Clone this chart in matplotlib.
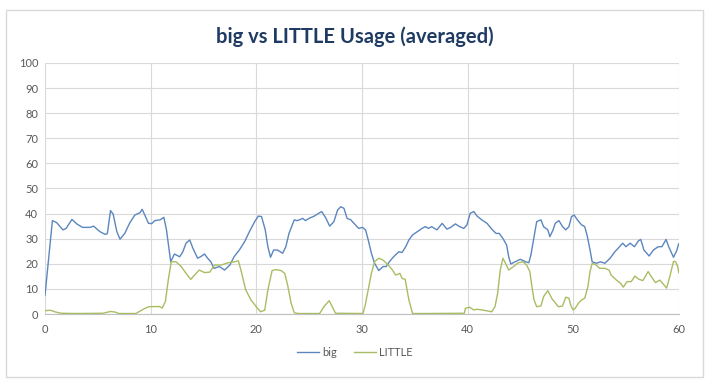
import matplotlib
matplotlib.use("Agg")
import matplotlib.pyplot as plt
from matplotlib.patches import Rectangle

# time (s) and usage (%)
big_t = [0.0, 0.7, 1.1, 1.7, 2.0, 2.55, 3.0, 3.55, 4.25, 4.6, 5.2, 5.7, 5.9, 6.2, 6.45,
         6.8, 7.1, 7.55, 8.0, 8.5, 9.0, 9.2, 9.45, 9.8, 10.1, 10.4, 10.9, 11.25, 11.5,
         11.7, 11.9, 12.25, 12.75, 13.05, 13.35, 13.7, 14.0, 14.45, 14.8, 15.1, 15.4,
         15.7, 16.0, 16.5, 17.0, 17.5, 17.9, 18.4, 18.9, 19.35, 19.85, 20.2, 20.5, 20.85,
         21.1, 21.35, 21.65, 22.0, 22.5, 22.8, 23.1, 23.6, 23.85, 24.1, 24.4, 24.65, 25.0,
         25.5, 25.9, 26.2, 26.6, 26.95, 27.35, 27.7, 28.0, 28.3, 28.6, 28.95, 29.25, 29.7,
         30.05, 30.35, 30.6, 30.9, 31.2, 31.6, 32.0, 32.3, 32.6, 33.0, 33.5, 33.8, 34.15,
         34.45, 34.8, 35.25, 35.7, 36.0, 36.3, 36.6, 37.1, 37.6, 38.05, 38.4, 38.85, 39.25,
         39.65, 39.95, 40.25, 40.6, 40.9, 41.35, 41.85, 42.3, 42.7, 43.0, 43.35, 43.7,
         43.9, 44.1, 44.5, 45.0, 45.5, 45.8, 46.0, 46.3, 46.55, 46.95, 47.2, 47.6, 47.8,
         48.1, 48.3, 48.65, 49.0, 49.3, 49.6, 49.85, 50.1, 50.4, 50.8, 51.1, 51.35, 51.6,
         51.8, 52.2, 52.6, 53.0, 53.5, 53.95, 54.4, 54.7, 55.0, 55.4, 55.8, 56.2, 56.4,
         56.7, 57.2, 57.6, 58.05, 58.4, 58.8, 59.05, 59.5, 59.8, 60.0]
big_v = [7.5, 37.2, 36.4, 33.5, 34.1, 37.7, 35.9, 34.5, 34.5, 35.0, 32.8, 31.7, 32.0, 41.2, 39.8,
         32.8, 29.8, 32.1, 36.1, 39.4, 40.4, 41.7, 39.4, 36.1, 36.0, 37.2, 37.5, 38.5, 33.5,
         27.0, 20.8, 23.9, 22.8, 24.8, 28.2, 29.5, 26.2, 22.2, 23.0, 23.9, 22.2,
         20.8, 18.2, 18.9, 17.5, 19.5, 22.8, 25.5, 28.8, 32.8, 36.8, 39.0, 38.8, 33.5,
         26.8, 22.6, 25.5, 25.5, 24.2, 26.8, 32.1, 37.5, 37.2, 37.5, 38.1, 37.2, 38.1,
         39.0, 40.1, 40.8, 38.1, 35.0, 36.8, 41.4, 42.7, 42.1, 38.1, 37.5, 36.1, 34.1,
         34.5, 33.5, 29.5, 24.2, 20.2, 17.3, 18.9, 18.9, 20.8, 22.8, 24.8, 24.5, 26.8,
         29.5, 31.5, 32.8, 34.1, 34.8, 34.1, 34.8, 33.5, 36.1, 33.8, 34.5, 35.9, 34.8,
         34.1, 35.5, 40.1, 40.8, 39.0, 37.5, 36.1, 33.8, 32.1, 32.1, 30.1, 27.5,
         22.8, 19.9, 20.8, 21.8, 20.8, 20.4, 23.5, 30.8, 36.8, 37.5, 34.8, 33.5, 30.8,
         33.5, 36.1, 37.2, 34.8, 33.5, 34.8, 38.8, 39.4, 37.5, 35.5, 34.8, 30.8, 25.5,
         20.8, 20.2, 20.8, 20.2, 22.2, 24.8, 26.8, 28.2, 26.8, 28.2, 26.8, 29.2, 29.7,
         25.5, 23.1, 25.5, 26.8, 26.8, 29.7, 26.8, 22.6, 25.2, 28.0]

little_t = [0.0, 0.5, 1.0, 1.5, 3.0, 5.5, 6.2, 6.6, 7.0, 8.6, 9.3, 9.8, 10.8, 11.1, 11.4,
            11.65, 11.95, 12.4, 12.9, 13.35, 13.8, 14.15, 14.6, 15.1, 15.6, 16.05, 16.7,
            17.3, 17.95, 18.3, 18.55, 19.0, 19.5, 20.0, 20.4, 20.8, 21.1, 21.5, 21.85,
            22.35, 22.7, 23.0, 23.3, 23.6, 24.0, 26.0, 26.4, 26.9, 27.2, 27.5, 30.1, 30.3,
            30.6, 30.9, 31.2, 31.6, 32.0, 32.5, 32.9, 33.2, 33.6, 33.8, 34.1, 34.45, 34.8,
            36.0, 39.7, 39.8, 40.2, 40.6, 40.9, 41.4, 41.8, 42.3, 42.6, 42.85, 43.1, 43.35,
            43.6, 43.9, 44.35, 44.8, 45.25, 45.6, 45.9, 46.1, 46.3, 46.55, 46.95, 47.2,
            47.6, 47.9, 48.0, 48.3, 48.6, 49.0, 49.3, 49.6, 49.8, 50.0, 50.2, 50.5, 50.8,
            51.1, 51.4, 51.6, 51.8, 52.2, 52.5, 53.0, 53.4, 53.6, 54.1, 54.5, 54.75, 55.1,
            55.5, 55.85, 56.2, 56.6, 57.1, 57.4, 57.8, 58.2, 58.6, 58.85, 59.15, 59.5,
            59.7, 59.9, 60.0]
little_v = [1.3, 1.5, 0.8, 0.3, 0.2, 0.3, 1.0, 0.8, 0.2, 0.2, 1.9, 2.9, 3.0, 2.4, 5.0,
            13.0, 20.8, 20.8, 18.9, 16.2, 13.8, 15.5, 17.5, 16.5, 16.7, 19.5, 19.5,
            20.4, 20.8, 21.2, 17.5, 9.6, 5.6, 2.9, 0.9, 1.5, 9.6, 17.3, 17.7,
            17.3, 16.2, 10.9, 4.3, 0.5, 0.2, 0.2, 2.9, 5.3, 2.9, 0.3, 0.2, 3.2,
            9.6, 16.2, 20.8, 22.2, 21.5, 19.5, 17.5, 15.5, 16.2, 14.2, 13.8, 5.6, 0.2,
            0.2, 0.3, 2.3, 2.7, 1.6, 1.9, 1.6, 1.3, 0.9, 2.9, 8.2, 17.5, 22.2,
            20.2, 17.5, 18.9, 20.4, 20.8, 19.5, 16.9, 10.9, 5.6, 2.9, 3.2, 6.9,
            9.3, 6.9, 6.0, 4.5, 2.9, 3.2, 6.7, 6.3, 3.2, 1.6, 2.3, 4.3, 5.6,
            6.3, 10.9, 16.9, 20.2, 19.5, 18.2, 18.2, 17.5, 15.5, 13.5, 12.2, 10.7, 12.9,
            12.9, 15.1, 13.9, 13.3, 16.9, 14.9, 12.5, 13.5, 11.6, 10.3, 14.9, 20.9,
            20.9, 18.9, 16.5]

x_ticks = [0, 10, 20, 30, 40, 50, 60]
y_ticks = [0, 10, 20, 30, 40, 50, 60, 70, 80, 90, 100]

plt.rcParams['font.family'] = ['Lato', 'DejaVu Sans']

fig = plt.figure(figsize=(7.1, 3.86), dpi=100)
fig.patches.append(Rectangle((0.009, 0.024), 0.981, 0.95, transform=fig.transFigure,
                             fill=False, edgecolor='#D9D9D9', linewidth=1.0))
ax = fig.add_axes([0.0634, 0.1865, 0.8926, 0.6505])

ax.plot(big_t, big_v, color='#5B86BE', linewidth=1.0, label='big')
ax.plot(little_t, little_v, color='#A8BD63', linewidth=1.0, label='LITTLE')

ax.set_xlim(0, 60)
ax.set_ylim(0, 100)
ax.set_xticks(x_ticks)
ax.set_yticks(y_ticks)
ax.grid(True, color='#D9D9D9', linewidth=0.8)
ax.set_axisbelow(True)
for side in ['top', 'right', 'left']:
    ax.spines[side].set_visible(False)
ax.spines['bottom'].set_color('#BFBFBF')
ax.tick_params(axis='x', colors='#595959', labelsize=8, length=0, pad=7)
ax.tick_params(axis='y', colors='#595959', labelsize=8, length=0, pad=5)

fig.text(0.5, 0.905, 'big vs LITTLE Usage (averaged)', ha='center', va='center',
         fontsize=14.5, fontweight='bold', color='#1F3B63')

fig.legend(loc='center', bbox_to_anchor=(0.5, 0.088), ncol=2, frameon=False,
           fontsize=8, handlelength=2.0, handletextpad=0.3, columnspacing=1.5,
           labelcolor='#595959')

fig.savefig('out.png', dpi=100)
